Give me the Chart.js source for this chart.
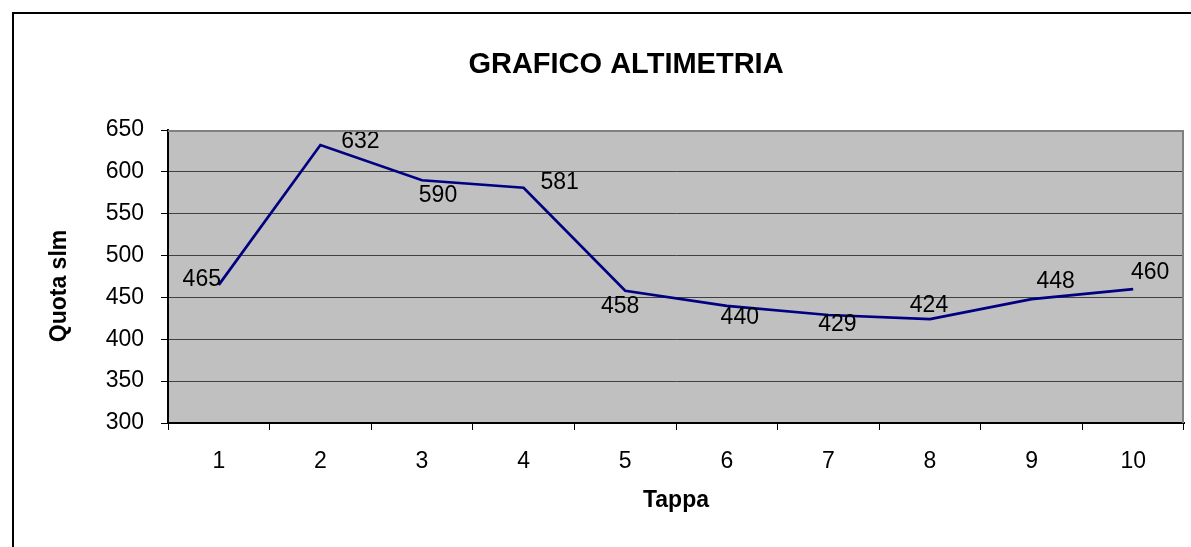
<!DOCTYPE html>
<html>
<head>
<meta charset="utf-8">
<script src="https://cdn.jsdelivr.net/npm/chart.js@4/dist/chart.umd.min.js"></script>
<style>
  html, body { margin: 0; padding: 0; background: #ffffff; }
  #wrap { width: 1191px; height: 547px; position: relative; }
</style>
</head>
<body>
<div id="wrap"><canvas id="c" width="1191" height="547"></canvas></div>
<script>
// ---- data ----
const categories = ['1', '2', '3', '4', '5', '6', '7', '8', '9', '10'];
const quota = [465, 632, 590, 581, 458, 440, 429, 424, 448, 460];
const chartTitle = 'GRAFICO ALTIMETRIA';
const xTitle = 'Tappa';
const yTitle = 'Quota slm';
const yMin = 300, yMax = 650, yStep = 50;

// label placement offsets (px, relative to each point) – layout only
const labelOffsets = [[-17, -5], [40, -3], [16, 15], [36, -5], [-5, 16], [13, 12], [9, 10], [-1, -14], [24, -17], [17, -16]];

const FONT = "'Liberation Sans', Arial, sans-serif";

const frame = {
  id: 'frame',
  beforeDraw(chart) {
    const ctx = chart.ctx;
    const a = chart.chartArea;
    ctx.save();
    ctx.fillStyle = '#ffffff';
    ctx.fillRect(0, 0, chart.width, chart.height);
    ctx.fillStyle = '#000000';
    ctx.fillRect(12, 12, chart.width, 2);
    ctx.fillRect(12, 12, 2, chart.height);
    ctx.fillStyle = '#C0C0C0';
    ctx.fillRect(a.left, a.top, a.right - a.left, a.bottom - a.top);
    ctx.restore();
  },
  afterDraw(chart) {
    const ctx = chart.ctx;
    const a = chart.chartArea;
    ctx.save();
    ctx.strokeStyle = '#808080';
    ctx.lineWidth = 2;
    ctx.beginPath();
    ctx.moveTo(a.left, a.top + 1);
    ctx.lineTo(a.right - 1, a.top + 1);
    ctx.lineTo(a.right - 1, a.bottom);
    ctx.stroke();
    // chart title
    ctx.fillStyle = '#000000';
    ctx.textAlign = 'center';
    ctx.textBaseline = 'middle';
    ctx.font = 'bold 29px ' + FONT;
    ctx.fillText(chartTitle, 626, 65);
    // y-axis title
    ctx.font = 'bold 23px ' + FONT;
    ctx.translate(60, 286);
    ctx.rotate(-Math.PI / 2);
    ctx.fillText(yTitle, 0, 0);
    ctx.restore();
  }
};

const dataLabels = {
  id: 'dataLabels',
  afterDatasetsDraw(chart) {
    const ctx = chart.ctx;
    const meta = chart.getDatasetMeta(0);
    const vals = chart.data.datasets[0].data;
    ctx.save();
    ctx.font = '23px ' + FONT;
    ctx.fillStyle = '#000000';
    ctx.textAlign = 'center';
    ctx.textBaseline = 'middle';
    meta.data.forEach((pt, i) => {
      const off = labelOffsets[i] || [0, -12];
      ctx.fillText(String(vals[i]), pt.x + off[0], pt.y + off[1]);
    });
    ctx.restore();
  }
};

new Chart(document.getElementById('c'), {
  type: 'line',
  data: {
    labels: categories,
    datasets: [{
      data: quota,
      borderColor: '#000080',
      borderWidth: 2.7,
      pointRadius: 0,
      fill: false,
      tension: 0
    }]
  },
  options: {
    responsive: false,
    animation: false,
    layout: { padding: { left: 0, right: 7, top: 130, bottom: 0 } },
    plugins: {
      legend: { display: false },
      tooltip: { enabled: false },
      title: { display: false }
    },
    scales: {
      x: {
        type: 'category',
        offset: true,
        afterFit(scale) { scale.height = 124; },
        grid: {
          display: true,
          drawOnChartArea: false,
          drawTicks: true,
          tickLength: 7,
          offset: true,
          tickColor: '#000000',
          color: '#000000'
        },
        border: { display: true, color: '#000000', width: 2 },
        ticks: {
          color: '#000000',
          font: { family: FONT, size: 23 },
          padding: 18,
          maxRotation: 0,
          autoSkip: false
        },
        title: {
          display: true,
          text: xTitle,
          color: '#000000',
          font: { family: FONT, size: 23, weight: 'bold' },
          padding: { top: 0, bottom: 33 }
        }
      },
      y: {
        min: yMin,
        max: yMax,
        afterFit(scale) { scale.width = 168; },
        grid: {
          display: true,
          drawOnChartArea: true,
          drawTicks: true,
          tickLength: 7,
          color: '#404040',
          tickColor: '#000000',
          lineWidth: 1
        },
        border: { display: true, color: '#000000', width: 2 },
        ticks: {
          stepSize: yStep,
          color: '#000000',
          font: { family: FONT, size: 23 },
          padding: 17
        },
        title: { display: false }
      }
    }
  },
  plugins: [frame, dataLabels]
});
</script>
</body>
</html>
